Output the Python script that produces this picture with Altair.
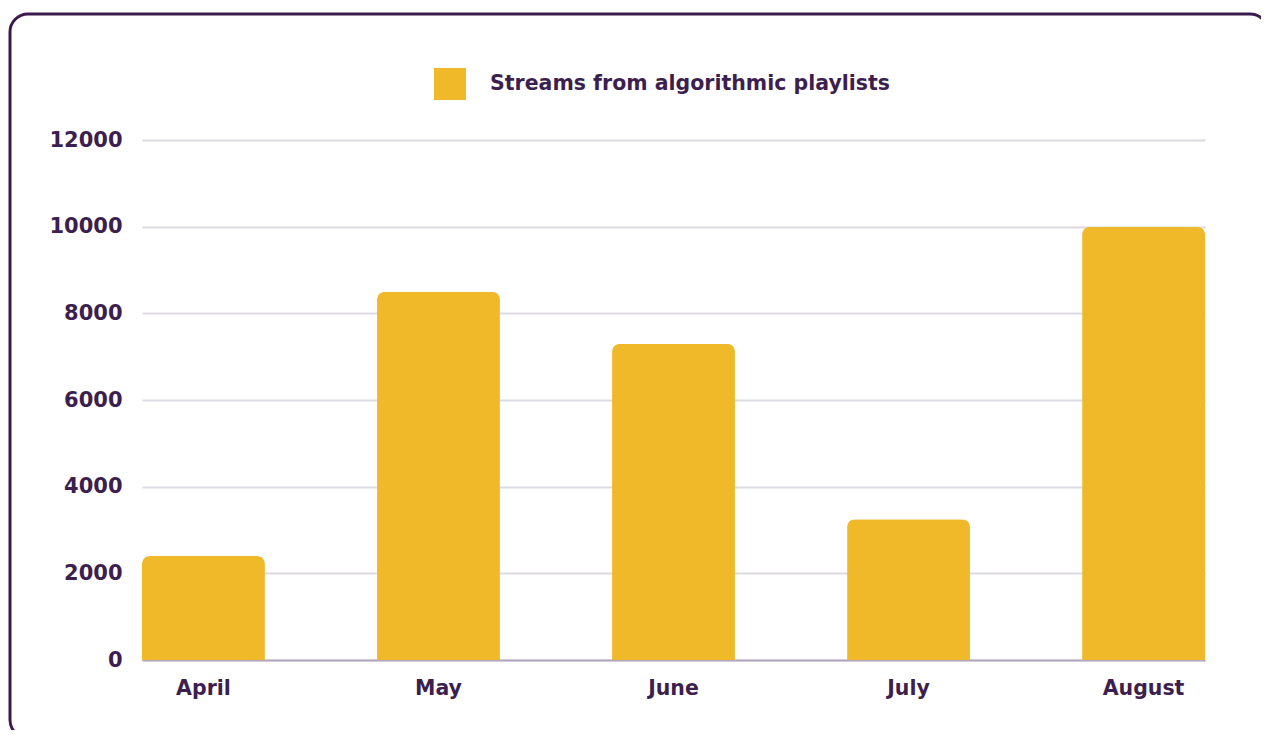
import altair as alt
import pandas as pd

months = ["April", "May", "June", "July", "August"]
streams = [2400, 8500, 7300, 3250, 10000]
series_name = "Streams from algorithmic playlists"
y_ticks = [0, 2000, 4000, 6000, 8000, 10000, 12000]

df = pd.DataFrame({"month": months, "streams": streams, "series": [series_name] * len(months)})

TEXT = "#3d1f4f"
GOLD = "#EFB92A"
FONT = "DejaVu Sans"

frame = alt.Chart(pd.DataFrame({"k": [0]})).mark_rect(
    filled=False, stroke="#3c1a4e", strokeWidth=3, cornerRadius=18
).encode(
    x=alt.value(-132), x2=alt.value(1126), y=alt.value(-126), y2=alt.value(598)
)

bars = alt.Chart(df).mark_bar(
    cornerRadiusTopLeft=8, cornerRadiusTopRight=8
).encode(
    x=alt.X("month:N", sort=months,
            scale=alt.Scale(paddingInner=0.477, paddingOuter=0),
            axis=alt.Axis(title=None, labelAngle=0, ticks=False, domain=True,
                          domainColor="#b3a7bf", domainWidth=2,
                          labelFont=FONT, labelFontSize=20.5, labelFontWeight="bold",
                          labelColor=TEXT, labelPadding=18, grid=False)),
    y=alt.Y("streams:Q", scale=alt.Scale(domain=[0, 12000], nice=False),
            axis=alt.Axis(title=None, values=y_ticks, format="d", ticks=False, domain=False,
                          gridColor="#dddae4", gridWidth=2,
                          labelFont=FONT, labelFontSize=21, labelFontWeight="bold",
                          labelColor=TEXT, labelPadding=20)),
    color=alt.Color("series:N", scale=alt.Scale(range=[GOLD]),
                    legend=alt.Legend(title=None, orient="none", legendX=292, legendY=-72,
                                      symbolType="square", symbolSize=1024,
                                      symbolStrokeWidth=0, symbolOpacity=1,
                                      labelFont=FONT, labelFontSize=20.5, labelFontWeight="bold",
                                      labelColor=TEXT, labelOffset=24, labelLimit=0, padding=0)),
)

chart = alt.layer(frame, bars).properties(
    width=1063, height=520,
    autosize=alt.AutoSizeParams(type="none"),
    padding={"left": 134, "top": 132, "right": 56, "bottom": 70},
).configure_view(strokeWidth=0)

chart.save("out.html", embed_options={"renderer": "svg", "actions": False})
